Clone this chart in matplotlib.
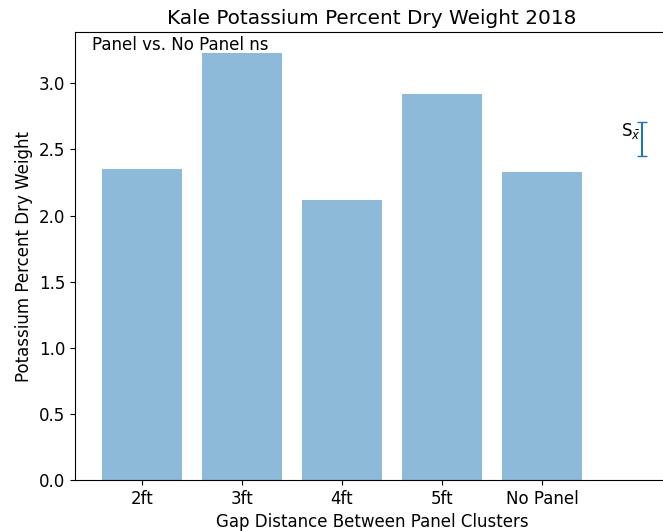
import numpy as np
import matplotlib
matplotlib.use('Agg')
import matplotlib.pyplot as plt

plt.rcParams['font.size'] = 12

categories = ['2ft', '3ft', '4ft', '5ft', 'No Panel']
potassium = [2.354, 3.226, 2.117, 2.922, 2.327]

# standard error marker drawn off to the right
se_x = 5.0
se_center = 2.58
se_half = 0.13

fig = plt.figure(figsize=(6.63, 5.31), dpi=100)
ax = fig.add_axes([0.1131, 0.096, 0.896, 0.8437])

pos = np.arange(len(categories))
ax.bar(pos, potassium, align='center', alpha=0.5)
ax.errorbar(se_x, se_center, yerr=se_half, capsize=3.6, color='C0')
ax.text(4.79, 2.6, r'S$_{\bar{x}}$')
ax.text(-0.5, 3.25, 'Panel vs. No Panel ns')

ax.set_xticks(pos)
ax.set_xticklabels(categories)
ax.set_xlabel('Gap Distance Between Panel Clusters')
ax.set_ylabel('Potassium Percent Dry Weight')
ax.set_title('Kale Potassium Percent Dry Weight 2018')

fig.savefig('out.png', dpi=100)
